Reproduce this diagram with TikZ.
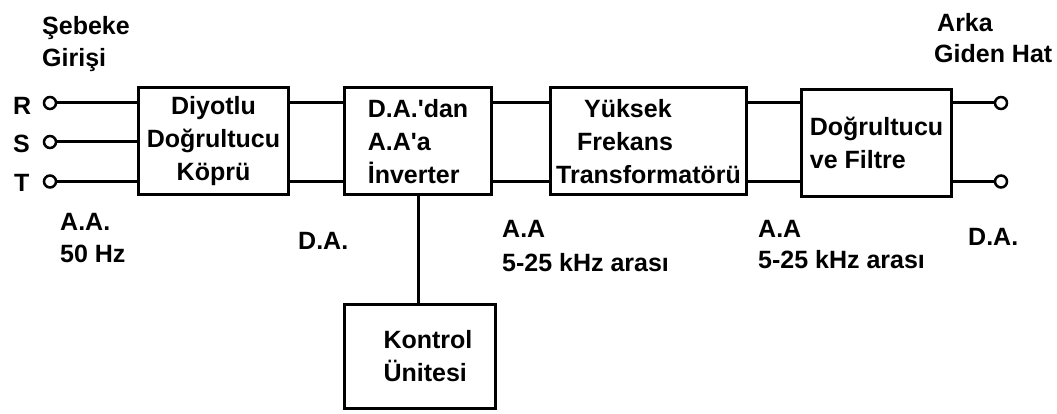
\documentclass[tikz,border=0pt]{standalone}
\usepackage{fontspec}
\setmainfont{Liberation Sans}
\begin{document}
\begin{tikzpicture}[x=1pt,y=-1pt,
  wire/.style={line width=3pt},
  blk/.style={draw, line width=3pt, fill=white, inner sep=0pt,
    minimum width=150pt, minimum height=107pt,
    font=\bfseries\fontsize{25}{33}\selectfont},
  term/.style={draw, circle, line width=2.5pt, minimum size=12pt,
    inner sep=0pt, fill=white},
  lbl/.style={anchor=base west, inner sep=0pt,
    font=\bfseries\fontsize{25}{29}\selectfont}]
\useasboundingbox (0,0) rectangle (1057,414);

% input and output terminals
\node[term] (cR) at (50,103) {};
\node[term] (cS) at (50,142) {};
\node[term] (cT) at (50,181.5) {};
\node[term] (oP) at (1001,103) {};
\node[term] (oN) at (1001,181.5) {};

% processing blocks
\node[blk, align=center] (b1) at (213.5,141.5) {Diyotlu\\Doğrultucu\\Köprü};
\node[blk, align=left, minimum width=147pt] (b2) at (418,141.5)
  {D.A.\textquotesingle dan\\A.A\textquotesingle a\\İnverter};
\node[blk, align=left, minimum width=196pt] (b3) at (648.5,141.5)
  {\hspace{28pt}Yüksek\\\hspace{21pt}Frekans\\Transformatörü};
\node[blk, align=left] (b4) at (876.5,143) {Doğrultucu\\ve Filtre};
\node[blk, align=left, minimum width=151pt, minimum height=104pt] (k) at (420,356.5)
  {\hspace{16pt}Kontrol\\\hspace{16pt}Ünitesi};

% wiring
\draw[wire] (cR.east) -- (cR -| b1.west);
\draw[wire] (cS.east) -- (cS -| b1.west);
\draw[wire] (cT.east) -- (cT -| b1.west);
\draw[wire] (cR -| b1.east) -- (cR -| b2.west);
\draw[wire] (cT -| b1.east) -- (cT -| b2.west);
\draw[wire] (cR -| b2.east) -- (cR -| b3.west);
\draw[wire] (cT -| b2.east) -- (cT -| b3.west);
\draw[wire] (cR -| b3.east) -- (cR -| b4.west);
\draw[wire] (cT -| b3.east) -- (cT -| b4.west);
\draw[wire] (oP -| b4.east) -- (oP.west);
\draw[wire] (oN -| b4.east) -- (oN.west);
\draw[wire] (b2.south) -- (b2.south |- k.north);

% labels
\node[lbl] (lSeb) at (42,35) {Şebeke};
\node[lbl] (lGir) at (42,67) {Girişi};
\node[lbl] (lR) at (13,115) {R};
\node[lbl] (lS) at (13,153) {S};
\node[lbl] (lT) at (14,192) {T};
\node[lbl] (lAA1) at (60,230) {A.A.};
\node[lbl] (lHz) at (60,262) {50 Hz};
\node[lbl] (lDA1) at (298,249) {D.A.};
\node[lbl] (lAA2) at (502,237) {A.A};
\node[lbl] (lkHz2) at (502,271) {5-25 kHz arası};
\node[lbl] (lAA3) at (758,237) {A.A};
\node[lbl] (lkHz3) at (758,268) {5-25 kHz arası};
\node[lbl] (lDA2) at (968,245) {D.A.};
\node[lbl] (lArka) at (937,32) {Arka};
\node[lbl] (lGiden) at (934,63) {Giden Hat};
\end{tikzpicture}
\end{document}
